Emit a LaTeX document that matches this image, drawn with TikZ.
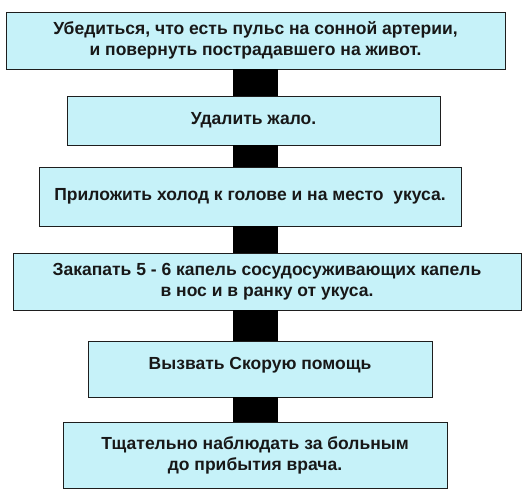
\documentclass[tikz,border=0pt]{standalone}
\usepackage{fontspec}
\setmainfont{Liberation Sans}
\usetikzlibrary{positioning}
\definecolor{boxfill}{RGB}{198,242,249}
\definecolor{boxline}{RGB}{30,30,30}
\definecolor{txtdark}{RGB}{24,24,24}

\begin{document}
\begin{tikzpicture}[x=1pt, y=-1pt,
    stepbox/.style={draw=boxline, line width=0.8pt, fill=boxfill, align=center,
      text=txtdark, font=\bfseries\fontsize{17.5}{21}\selectfont, inner sep=0pt},
    spinebar/.style={line width=45pt, black}]
  \useasboundingbox (0,0) rectangle (528,497);
  % spine of the chart
  \coordinate (spine) at (255.5,0);
  % steps
  \node[stepbox, minimum width=499pt, minimum height=57pt] (s1) at (255.5,40.5)
    {Убедиться, что есть пульс на сонной артерии,\\ и повернуть пострадавшего на живот.};
  \node[stepbox, minimum width=373pt, minimum height=49pt] (s2) at (253.5,120.5)
    {Удалить жало.};
  \node[stepbox, minimum width=422pt, minimum height=59pt] (s3) at (250,196.5)
    {Приложить холод к голове и на место\ \ укуса.};
  \node[stepbox, minimum width=508pt, minimum height=57pt] (s4) at (267,281.5)
    {Закапать 5 - 6 капель сосудосуживающих капель\\ в нос и в ранку от укуса.};
  \node[stepbox, minimum width=344pt, minimum height=56pt, text depth=12pt] (s5) at (260,369)
    {Вызвать Скорую помощь};
  \node[stepbox, minimum width=384pt, minimum height=66pt] (s6) at (255,455)
    {Тщательно наблюдать за больным\\ до прибытия врача.};
  % connectors
  \foreach \a/\b in {s1/s2, s2/s3, s3/s4, s4/s5, s5/s6}
    \draw[spinebar] (\a.south -| spine) -- (\b.north -| spine);
\end{tikzpicture}
\end{document}
